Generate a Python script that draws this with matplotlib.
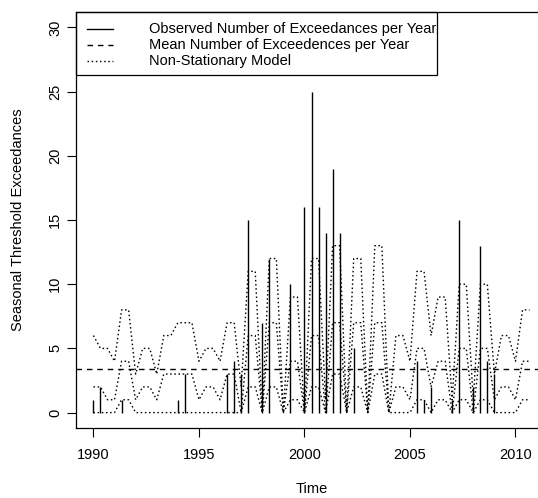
import matplotlib

matplotlib.use("Agg")

import matplotlib.pyplot as plot
import numpy as np
from matplotlib.lines import Line2D
from matplotlib.patches import Rectangle

# three seasons per year, first season of 1990 to last season of 2010
START_YEAR = 1990
SEASONS_PER_YEAR = 3

observed = [
    1, 2, 0,  0, 1, 0,  0, 0, 0,  0, 0, 0,  1, 3, 0,  0, 0, 0,  0, 3, 4,
    3, 15, 0,  7, 12, 0,  0, 10, 0,  16, 25, 16,  14, 19, 14,  0, 5, 0,
    0, 0, 0,  0, 0, 0,  0, 4, 1,  2, 0, 0,  1, 15, 0,  2, 13, 4,  3, 0, 0,
    0, 0, 0,
]
model_upper = [
    6, 5, 5,  4, 8, 8,  3, 5, 5,  3, 6, 6,  7, 7, 7,  4, 5, 5,  4, 7, 7,
    2, 11, 11,  0, 12, 12,  0, 9, 9,  0, 12, 12,  1, 13, 13,  0, 12, 12,
    0, 13, 13,  0, 6, 6,  4, 11, 11,  6, 9, 9,  1, 10, 10,  1, 10, 10,
    3, 6, 6,  4, 8, 8,
]
model_median = [
    2, 2, 1,  1, 4, 4,  1, 2, 2,  1, 3, 3,  3, 3, 3,  1, 2, 2,  1, 3, 3,
    0, 6, 6,  0, 7, 7,  0, 4, 4,  0, 6, 6,  0, 7, 7,  0, 7, 7,
    0, 7, 7,  0, 2, 2,  1, 5, 5,  2, 4, 4,  0, 5, 5,  0, 5, 5,
    1, 2, 2,  1, 4, 4,
]
model_lower = [
    0, 0, 0,  0, 1, 1,  0, 0, 0,  0, 0, 0,  0, 0, 0,  0, 0, 0,  0, 0, 0,
    0, 2, 2,  0, 2, 2,  0, 1, 1,  0, 2, 2,  0, 3, 3,  0, 2, 2,
    0, 3, 3,  0, 0, 0,  0, 1, 1,  0, 1, 1,  0, 1, 1,  0, 1, 1,
    0, 0, 0,  0, 1, 1,
]

x_ticks = [1990, 1995, 2000, 2005, 2010]
y_ticks = [0, 5, 10, 15, 20, 25, 30]
y_limits = (0, 30)

legend_labels = [
    "Observed Number of Exceedances per Year",
    "Mean Number of Exceedences per Year",
    "Non-Stationary Model",
]

WIDTH, HEIGHT, DPI = 538, 498, 100
LINE_WIDTH = 1.0
DASHED = (0, (4, 3.5))
DOTTED = (0, (1.1, 1.9))


def fx(px):
    return px / WIDTH


def fy(py):
    return 1 - py / HEIGHT


def create_plot():
    plot.rcParams["font.family"] = ["Liberation Sans", "DejaVu Sans"]
    plot.rcParams["font.size"] = 10.5

    time = START_YEAR + np.arange(len(observed)) / SEASONS_PER_YEAR
    mean_count = np.mean(observed)

    figure = plot.figure(figsize=(WIDTH / DPI, HEIGHT / DPI), dpi=DPI)
    # plot region runs past the right edge of the picture, as in the original
    axis = figure.add_axes([fx(76), fy(428), fx(471), 416 / HEIGHT])

    axis.vlines(time, 0, observed, color="black", linewidth=LINE_WIDTH)
    axis.axhline(mean_count, color="black", linewidth=LINE_WIDTH, linestyle=DASHED)
    for series in (model_upper, model_median, model_lower):
        axis.plot(time, series, color="black", linewidth=LINE_WIDTH, linestyle=DOTTED)

    # R style 4% padding on both axes
    span = time[-1] - time[0]
    axis.set_xlim(time[0] - 0.04 * span, time[-1] + 0.04 * span)
    y_span = y_limits[1] - y_limits[0]
    axis.set_ylim(y_limits[0] - 0.04 * y_span, y_limits[1] + 0.04 * y_span)

    axis.set_xticks(x_ticks)
    axis.set_yticks(y_ticks)
    axis.tick_params(direction="out", length=6.5, width=0.8, color="black")
    axis.tick_params(axis="x", pad=8)
    axis.tick_params(axis="y", pad=3.5)
    for label in axis.get_yticklabels():
        label.set_rotation(90)
        label.set_verticalalignment("center")
    for spine in axis.spines.values():
        spine.set_linewidth(0.9)

    axis.set_xlabel("Time", va="center")
    axis.xaxis.set_label_coords(0.5, (428 - 489) / 416)
    axis.set_ylabel("Seasonal Threshold Exceedances", va="center")
    axis.yaxis.set_label_coords((18 - 76) / 471, 0.5)

    # legend box in the top left corner of the plot region
    figure.add_artist(Rectangle(
        (fx(76), fy(75)), fx(437 - 76), 63 / HEIGHT,
        transform=figure.transFigure, fill=False, edgecolor="black", linewidth=0.9,
    ))
    styles = ["-", DASHED, DOTTED]
    rows = [29, 45, 61.5]
    for label, style, row in zip(legend_labels, styles, rows):
        figure.add_artist(Line2D(
            [fx(87), fx(113)], [fy(row), fy(row)],
            transform=figure.transFigure, color="black", linewidth=LINE_WIDTH, linestyle=style,
        ))
        figure.text(fx(149), fy(row), label, ha="left", va="center")

    return figure


def save_plot():
    figure = create_plot()
    figure.savefig("out.png", dpi=DPI)


save_plot()
